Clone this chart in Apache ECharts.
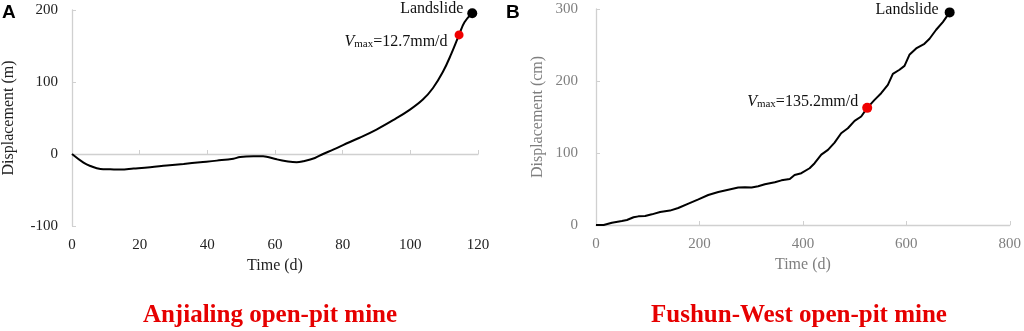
<!DOCTYPE html>
<html>
<head>
<meta charset="utf-8">
<script src="https://cdn.jsdelivr.net/npm/echarts@6/dist/echarts.min.js"></script>
<style>
  html, body { margin: 0; padding: 0; background: #fff; }
  #chart { width: 1024px; height: 331px; }
</style>
</head>
<body>
<div id="chart"></div>
<script>
// panel A - Anjialing, time (d) vs displacement (m)
var anjialingTime = [0, 3.4, 5.4, 8.4, 11.3, 14.3, 18.2, 23.1, 28, 33, 37.9, 42.8, 47.7, 49.7, 53.6, 56.5, 57.5, 60.5, 63.4, 66.4, 68.3, 71.8, 74.2, 77.2, 80.1, 85, 90, 94.9, 99.8, 103.7, 106.7, 109.6, 112.1, 114.4, 116, 118.3];
var anjialingDisp = [0, -12, -16.6, -20.7, -21.2, -21.7, -20.3, -18.4, -16, -13.8, -11.5, -9.2, -6.5, -4.1, -3.2, -3.2, -3.7, -7.4, -10.1, -11.5, -10.1, -5.5, 0, 6, 12.4, 22.6, 34, 47, 61.3, 75.6, 91.7, 113.8, 139, 165.4, 183, 195.4];
var anjialingVmax = [114.4, 165.4];
var anjialingSlide = [118.3, 195.4];

// panel B - Fushun-West, time (d) vs displacement (cm)
var fushunTime = [0, 14.8, 30.8, 50, 59.8, 72.6, 82, 95, 108, 124, 143, 159, 178.7, 198, 217, 236.5, 255.8, 275, 288, 300.8, 313.6, 326.5, 345.8, 358.6, 374.7, 384, 397, 413, 422.7, 435.6, 448.5, 461.3, 474, 487, 500, 512.8, 524.4, 538.6, 551.4, 564.3, 574, 586.8, 596.5, 606, 619, 635, 644.9, 657.7, 670.6, 683.8];
var fushunDisp = [0, 0, 3.2, 5.6, 7, 10.7, 12, 12.5, 14.8, 18, 20, 23.6, 29.7, 35.7, 41.7, 45.9, 49, 52, 52.4, 52, 53.8, 56.6, 59.3, 62, 64, 69.5, 71.9, 78.8, 85.8, 97.8, 104.3, 114.5, 127.5, 134.4, 144.6, 150.7, 162.7, 173.8, 183, 194.7, 210, 215.6, 221, 236.4, 245.2, 251.7, 258.7, 271.2, 281.8, 295.3];
var fushunVmax = [524.4, 162.7];
var fushunSlide = [683.8, 295.3];

function pairs(xs, ys) {
    return xs.map(function (x, i) { return [x, ys[i]]; });
}

var serif = 'Liberation Serif';
var axisGray = '#d0d0d0';

function axisStyle(textColor, margin) {
    return {
        axisLine: {show: true, lineStyle: {color: axisGray, width: 1.3}},
        axisTick: {show: true, inside: true, length: 4, lineStyle: {color: axisGray}},
        splitLine: {show: false},
        axisLabel: {color: textColor, fontFamily: serif, fontSize: 15, margin: margin},
        nameTextStyle: {color: textColor, fontFamily: serif, fontSize: 16}
    };
}

var vmaxRich = {
    v: {fontFamily: serif, fontSize: 16, fontStyle: 'italic', color: '#111', lineHeight: 18, verticalAlign: 'bottom'},
    s: {fontFamily: serif, fontSize: 11, color: '#111', lineHeight: 14, verticalAlign: 'bottom', padding: [6, 0, 0, 0]},
    t: {fontFamily: serif, fontSize: 16, color: '#111', lineHeight: 18, verticalAlign: 'bottom'}
};

var myChart = echarts.init(document.getElementById('chart'));

var option = {
    animation: false,
    backgroundColor: '#fff',
    grid: [
        {left: 72, right: 546, top: 10, bottom: 105},
        {left: 596, right: 13, top: 9, bottom: 106}
    ],
    xAxis: [
        Object.assign(axisStyle('#222', 12), {
            gridIndex: 0, type: 'value', min: 0, max: 120, interval: 20,
            name: 'Time (d)', nameLocation: 'middle', nameGap: 32
        }),
        Object.assign(axisStyle('#7f7f7f', 12), {
            gridIndex: 1, type: 'value', min: 0, max: 800, interval: 200,
            name: 'Time (d)', nameLocation: 'middle', nameGap: 32
        })
    ],
    yAxis: [
        Object.assign(axisStyle('#222', 14), {
            gridIndex: 0, type: 'value', min: -100, max: 200, interval: 100,
            name: 'Displacement (m)', nameLocation: 'middle', nameGap: 55
        }),
        Object.assign(axisStyle('#7f7f7f', 18), {
            gridIndex: 1, type: 'value', min: 0, max: 300, interval: 100,
            name: 'Displacement (cm)', nameLocation: 'middle', nameGap: 50
        })
    ],
    series: [
        {
            type: 'line', xAxisIndex: 0, yAxisIndex: 0, smooth: 0.4, showSymbol: false,
            lineStyle: {color: '#000', width: 2},
            data: pairs(anjialingTime, anjialingDisp)
        },
        {
            type: 'scatter', xAxisIndex: 0, yAxisIndex: 0, symbolSize: 9, z: 5,
            itemStyle: {color: '#f00000', opacity: 1},
            label: {show: true, position: 'left', distance: 7, offset: [0, 6],
                formatter: '{v|V}{s|max}{t|=12.7mm/d}', rich: vmaxRich},
            data: [anjialingVmax]
        },
        {
            type: 'scatter', xAxisIndex: 0, yAxisIndex: 0, symbolSize: 10, z: 5,
            itemStyle: {color: '#000', opacity: 1},
            label: {show: true, position: 'left', distance: 4, offset: [0, -5],
                formatter: 'Landslide', color: '#111', fontFamily: serif, fontSize: 16},
            data: [anjialingSlide]
        },
        {
            type: 'line', xAxisIndex: 1, yAxisIndex: 1, smooth: false, showSymbol: false,
            lineStyle: {color: '#000', width: 2},
            data: pairs(fushunTime, fushunDisp)
        },
        {
            type: 'scatter', xAxisIndex: 1, yAxisIndex: 1, symbolSize: 10, z: 5,
            itemStyle: {color: '#f00000', opacity: 1},
            label: {show: true, position: 'left', distance: 4, offset: [0, -7],
                formatter: '{v|V}{s|max}{t|=135.2mm/d}', rich: vmaxRich},
            data: [fushunVmax]
        },
        {
            type: 'scatter', xAxisIndex: 1, yAxisIndex: 1, symbolSize: 10, z: 5,
            itemStyle: {color: '#000', opacity: 1},
            label: {show: true, position: 'left', distance: 6, offset: [0, -3],
                formatter: 'Landslide', color: '#111', fontFamily: serif, fontSize: 16},
            data: [fushunSlide]
        }
    ],
    graphic: [
        {type: 'text', left: 2, top: 3, style: {text: 'A', font: 'bold 19px "Liberation Sans"', fill: '#000'}},
        {type: 'text', left: 506, top: 3, style: {text: 'B', font: 'bold 19px "Liberation Sans"', fill: '#000'}},
        {type: 'text', x: 270, y: 316, style: {text: 'Anjialing open-pit mine', font: 'bold 25px "Liberation Serif"', fill: '#e60000', align: 'center', verticalAlign: 'middle'}},
        {type: 'text', x: 799, y: 316, style: {text: 'Fushun-West open-pit mine', font: 'bold 25px "Liberation Serif"', fill: '#e60000', align: 'center', verticalAlign: 'middle'}}
    ]
};

myChart.setOption(option);
</script>
</body>
</html>
